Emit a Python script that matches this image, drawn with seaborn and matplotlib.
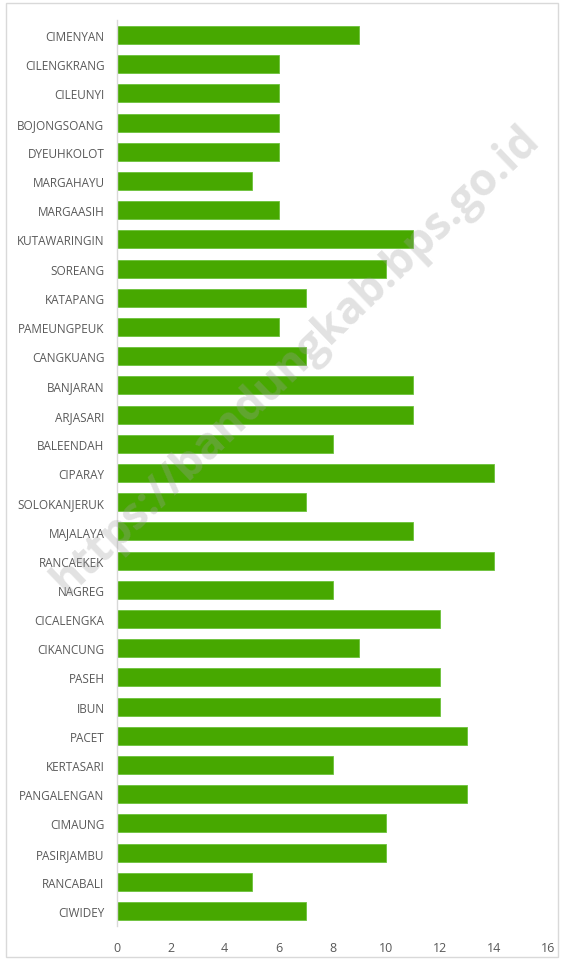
import matplotlib
matplotlib.use("Agg")
import matplotlib.pyplot as plt
import seaborn as sns
import pandas as pd
from matplotlib.patches import Rectangle

kecamatan = ["CIMENYAN", "CILENGKRANG", "CILEUNYI", "BOJONGSOANG", "DYEUHKOLOT", "MARGAHAYU",
             "MARGAASIH", "KUTAWARINGIN", "SOREANG", "KATAPANG", "PAMEUNGPEUK", "CANGKUANG",
             "BANJARAN", "ARJASARI", "BALEENDAH", "CIPARAY", "SOLOKANJERUK", "MAJALAYA",
             "RANCAEKEK", "NAGREG", "CICALENGKA", "CIKANCUNG", "PASEH", "IBUN", "PACET",
             "KERTASARI", "PANGALENGAN", "CIMAUNG", "PASIRJAMBU", "RANCABALI", "CIWIDEY"]
nilai = [9, 6, 6, 6, 6, 5, 6, 11, 10, 7, 6, 7, 11, 11, 8, 14, 7, 11, 14, 8, 12, 9, 12, 12, 13,
         8, 13, 10, 10, 5, 7]
x_ticks = [0, 2, 4, 6, 8, 10, 12, 14, 16]

df = pd.DataFrame({"kecamatan": kecamatan, "nilai": nilai})

sns.set_style("white")
plt.rcParams['font.family'] = ['Open Sans', 'DejaVu Sans']

fig = plt.figure(figsize=(5.64, 9.62), dpi=100)
ax = fig.add_axes([117/564, 1 - 926.6/962, (548-117)/564, (926.6-21.4)/962])

sns.barplot(data=df, x="nilai", y="kecamatan", orient="h", color="#47A800",
            saturation=1, width=0.62, ax=ax, edgecolor="#6CC23A", linewidth=0.6)

ax.set_xlim(0, 16)
ax.set_xticks(x_ticks)
ax.set_xlabel("")
ax.set_ylabel("")
for s in ["top", "right", "bottom"]:
    ax.spines[s].set_visible(False)
ax.spines["left"].set_color("#D9D9D9")
ax.spines["left"].set_linewidth(1)
ax.tick_params(axis="y", length=0, colors="#595959", labelsize=8.5, pad=9)
ax.tick_params(axis="x", length=0, colors="#595959", labelsize=9, pad=11)

fig.text(0.525, 0.625, "https://bandungkab.bps.go.id", rotation=43.8, fontsize=32,
         fontweight="bold", color="#9E9E9E", alpha=0.3, ha="center", va="center",
         rotation_mode="anchor", zorder=10)

fig.patches.append(Rectangle((6/564, 4/962), (558-6)/564, (958-4)/962, transform=fig.transFigure,
                             fill=False, edgecolor="#D9D9D9", linewidth=1))

fig.savefig("out.png", dpi=100)
